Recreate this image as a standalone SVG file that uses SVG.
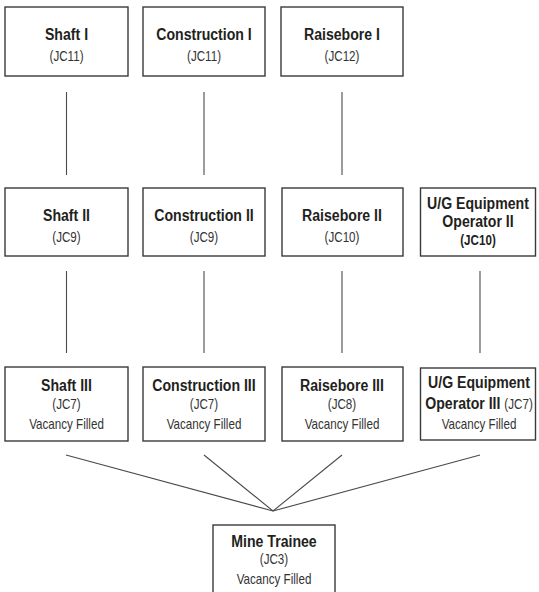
<svg xmlns="http://www.w3.org/2000/svg" width="539" height="592" viewBox="0 0 539 592">
<style>
  .box { fill: #ffffff; stroke: #3a3a3a; stroke-width: 1.4; }
  .ln { stroke: #4a4a4a; stroke-width: 1.1; fill: none; }
  .t { font-family: "Liberation Sans", Arial, sans-serif; font-weight: bold; font-size: 17px; fill: #231f20; text-anchor: middle; }
  .s { font-family: "Liberation Sans", Arial, sans-serif; font-weight: normal; font-size: 14px; fill: #333333; text-anchor: middle; }
  .sb { font-family: "Liberation Sans", Arial, sans-serif; font-weight: bold; font-size: 14px; fill: #231f20; text-anchor: middle; }
</style>
<rect width="539" height="592" fill="#ffffff"/>
<g id="connectors">
  <line class="ln" x1="66.5" y1="92" x2="66.5" y2="175"/>
  <line class="ln" x1="204" y1="92" x2="204" y2="175"/>
  <line class="ln" x1="342" y1="92" x2="342" y2="175"/>
  <line class="ln" x1="66.5" y1="271" x2="66.5" y2="353"/>
  <line class="ln" x1="204" y1="271" x2="204" y2="353"/>
  <line class="ln" x1="342" y1="271" x2="342" y2="353"/>
  <line class="ln" x1="480" y1="271" x2="480" y2="353"/>
  <line class="ln" x1="66" y1="455" x2="273" y2="511"/>
  <line class="ln" x1="204" y1="455" x2="273" y2="511"/>
  <line class="ln" x1="342" y1="455" x2="273" y2="511"/>
  <line class="ln" x1="480" y1="455" x2="273" y2="511"/>
</g>
<g id="shaft1">
  <rect class="box" x="5" y="7" width="123" height="69"/>
  <g transform="translate(66.5,0) scale(0.83,1)">
    <text class="t" x="0" y="40">Shaft I</text>
    <text class="s" x="0" y="61">(JC11)</text>
  </g>
</g>
<g id="construction1">
  <rect class="box" x="143" y="7" width="122" height="69"/>
  <g transform="translate(204,0) scale(0.83,1)">
    <text class="t" x="0" y="40">Construction I</text>
    <text class="s" x="0" y="61">(JC11)</text>
  </g>
</g>
<g id="raisebore1">
  <rect class="box" x="281" y="7" width="122" height="69"/>
  <g transform="translate(342,0) scale(0.83,1)">
    <text class="t" x="0" y="40">Raisebore I</text>
    <text class="s" x="0" y="61">(JC12)</text>
  </g>
</g>
<g id="shaft2">
  <rect class="box" x="5" y="188" width="123" height="68"/>
  <g transform="translate(66.5,0) scale(0.83,1)">
    <text class="t" x="0" y="221">Shaft II</text>
    <text class="s" x="0" y="242">(JC9)</text>
  </g>
</g>
<g id="construction2">
  <rect class="box" x="143" y="188" width="122" height="68"/>
  <g transform="translate(204,0) scale(0.83,1)">
    <text class="t" x="0" y="221">Construction II</text>
    <text class="s" x="0" y="242">(JC9)</text>
  </g>
</g>
<g id="raisebore2">
  <rect class="box" x="282" y="188" width="121" height="68"/>
  <g transform="translate(342,0) scale(0.83,1)">
    <text class="t" x="0" y="221">Raisebore II</text>
    <text class="s" x="0" y="242">(JC10)</text>
  </g>
</g>
<g id="ugequip2">
  <rect class="box" x="420.5" y="188" width="115" height="68"/>
  <g transform="translate(478,0) scale(0.83,1)">
    <text class="t" x="0" y="209">U/G Equipment</text>
    <text class="t" x="0" y="227">Operator II</text>
    <text class="sb" x="0" y="245">(JC10)</text>
  </g>
</g>
<g id="shaft3">
  <rect class="box" x="5" y="367" width="123" height="74"/>
  <g transform="translate(66.5,0) scale(0.83,1)">
    <text class="t" x="0" y="391">Shaft III</text>
    <text class="s" x="0" y="409">(JC7)</text>
    <text class="s" x="0" y="429">Vacancy Filled</text>
  </g>
</g>
<g id="construction3">
  <rect class="box" x="143" y="367" width="122" height="74"/>
  <g transform="translate(204,0) scale(0.83,1)">
    <text class="t" x="0" y="391">Construction III</text>
    <text class="s" x="0" y="409">(JC7)</text>
    <text class="s" x="0" y="429">Vacancy Filled</text>
  </g>
</g>
<g id="raisebore3">
  <rect class="box" x="282" y="367" width="121" height="74"/>
  <g transform="translate(342,0) scale(0.83,1)">
    <text class="t" x="0" y="391">Raisebore III</text>
    <text class="s" x="0" y="409">(JC8)</text>
    <text class="s" x="0" y="429">Vacancy Filled</text>
  </g>
</g>
<g id="ugequip3">
  <rect class="box" x="420.5" y="368" width="115" height="72"/>
  <g transform="translate(479,0) scale(0.83,1)">
    <text class="t" x="0" y="388">U/G Equipment</text>
    <text class="t" x="0" y="409">Operator III <tspan class="s">(JC7)</tspan></text>
    <text class="s" x="0" y="429">Vacancy Filled</text>
  </g>
</g>
<g id="minetrainee">
  <rect class="box" x="213" y="525" width="122" height="75"/>
  <g transform="translate(274,0) scale(0.83,1)">
    <text class="t" x="0" y="547">Mine Trainee</text>
    <text class="s" x="0" y="564">(JC3)</text>
    <text class="s" x="0" y="584">Vacancy Filled</text>
  </g>
</g>
</svg>
